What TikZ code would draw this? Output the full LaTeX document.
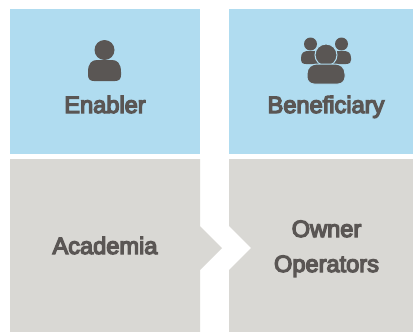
\documentclass[tikz,border=0pt]{standalone}
\usepackage{fontspec}
\setmainfont[FakeBold=5.5]{Liberation Sans}
\definecolor{bluebox}{HTML}{B0DCF0}
\definecolor{greybox}{HTML}{D9D8D4}
\definecolor{ink}{HTML}{5A5654}
\tikzset{
  lbl/.style={text=ink,font=\fontsize{23.6}{35}\selectfont,align=center,inner sep=0pt,anchor=base},
  person/.style={fill=ink,draw=none},
  halo/.style={fill=ink,draw=bluebox,line width=1pt}
}
\begin{document}
\begin{tikzpicture}[x=1pt,y=-1pt]
\useasboundingbox (0,0) rectangle (413,332);
\fill[white] (0,0) rectangle (413,332);
% boxes
\fill[bluebox] (10,9) rectangle (200,154);
\fill[bluebox] (229,9) rectangle (413,154);
\fill[greybox] (10,159) -- (200,159) -- (200,226) -- (222,248) -- (200,270) -- (200,332) -- (10,332) -- cycle;
\fill[greybox] (229,159) -- (413,159) -- (413,332) -- (229,332) -- (229,270) -- (251,248) -- (229,226) -- cycle;
% enabler icon
\fill[person] (104.5,50) circle (10);
\fill[person] (88,72) .. controls (88,63) and (92,60) .. (97,60) -- (112,60) .. controls (117,60) and (121,63) .. (121,72) -- (121,75) .. controls (121,79) and (119,81) .. (115,81) -- (94,81) .. controls (90,81) and (88,79) .. (88,75) -- cycle;
% beneficiary icon
\fill[person] (310.5,44) circle (6.5);
\fill[person] (341.5,44) circle (6.5);
\fill[person] (301,58) .. controls (301,53) and (304,51) .. (308,51) -- (320,51) -- (320,64) -- (306,64) .. controls (302,64) and (301,62) .. (301,60) -- cycle;
\fill[person] (351,58) .. controls (351,53) and (348,51) .. (344,51) -- (332,51) -- (332,64) -- (346,64) .. controls (350,64) and (351,62) .. (351,60) -- cycle;
\filldraw[halo] (326,55) circle (11);
\filldraw[halo] (307,74) .. controls (307,67) and (312,64) .. (317,64) -- (335,64) .. controls (340,64) and (345,67) .. (345,74) -- (345,77) .. controls (345,81) and (342,84) .. (338,84) -- (314,84) .. controls (310,84) and (307,81) .. (307,77) -- cycle;
% labels
\node[lbl] (enabler) at (105,113) {Enabler};
\node[lbl] (beneficiary) at (326,113) {Beneficiary};
\node[lbl] (academia) at (105,254) {Academia};
\node[lbl] (owner) at (326.5,272) {Owner\\Operators};
\end{tikzpicture}
\end{document}
